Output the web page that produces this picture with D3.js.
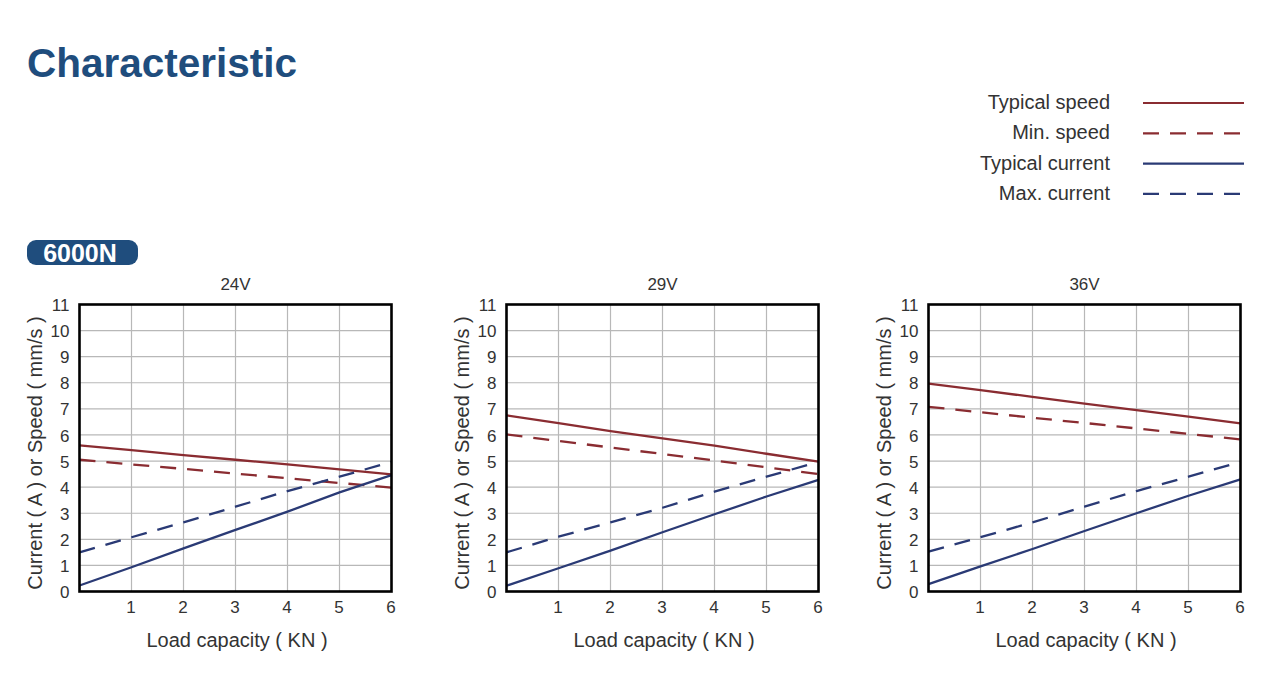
<!DOCTYPE html>
<html><head><meta charset="utf-8">
<script src="https://cdn.jsdelivr.net/npm/d3@7"></script>
<style>
body{margin:0;background:#fff;}
text{font-family:"Liberation Sans",Arial,Helvetica,sans-serif;}
</style></head>
<body>
<svg id="c" width="1268" height="681"></svg>
<script>
const loads = [0,1,2,3,4,5,6];
const xTicks = [1,2,3,4,5,6];
const yTicks = [0,1,2,3,4,5,6,7,8,9,10,11];
const voltages = ["24V","29V","36V"];
const seriesNames = ["Typical speed","Min. speed","Typical current","Max. current"];
// values per voltage, per series, at loads 0..6
const typSpeed24 = [5.6,5.42,5.23,5.05,4.87,4.68,4.49];
const minSpeed24 = [5.05,4.87,4.7,4.52,4.34,4.16,3.98];
const typCurrent24 = [0.23,0.93,1.65,2.36,3.06,3.8,4.46];
const maxCurrent24 = [1.5,2.08,2.65,3.25,3.85,4.4,4.97];
const typSpeed29 = [6.75,6.45,6.15,5.87,5.59,5.28,4.98];
const minSpeed29 = [6.02,5.77,5.52,5.27,5.02,4.76,4.5];
const typCurrent29 = [0.22,0.89,1.57,2.27,2.96,3.64,4.28];
const maxCurrent29 = [1.5,2.1,2.65,3.21,3.83,4.4,4.97];
const typSpeed36 = [7.97,7.72,7.46,7.2,6.95,6.7,6.44];
const minSpeed36 = [7.08,6.87,6.66,6.46,6.25,6.04,5.83];
const typCurrent36 = [0.28,0.96,1.63,2.32,3.0,3.67,4.3];
const maxCurrent36 = [1.53,2.08,2.65,3.25,3.85,4.4,4.97];

const data = [
  [typSpeed24,minSpeed24,typCurrent24,maxCurrent24],
  [typSpeed29,minSpeed29,typCurrent29,maxCurrent29],
  [typSpeed36,minSpeed36,typCurrent36,maxCurrent36]
];
const red = "#8a2c31", blue = "#2a3a75";
const styles = [
  {c:red,d:null},{c:red,d:"16,11"},{c:blue,d:null},{c:blue,d:"16,11"}
];
const FONT = "Liberation Sans, Arial, sans-serif";

const svg = d3.select("#c");
svg.append("text").attr("x",27).attr("y",77).attr("font-size",40.5).attr("font-weight","bold")
  .attr("fill","#1f4d7d").text("Characteristic");

// legend
seriesNames.forEach((n,i)=>{
  const yy = 102 + i*30.3;
  svg.append("text").attr("x",1110).attr("y",yy).attr("dy","0.35em").attr("text-anchor","end")
    .attr("font-size",20).attr("fill","#333").text(n);
  svg.append("line").attr("x1",1143).attr("x2",1244).attr("y1",yy+1).attr("y2",yy+1)
    .attr("stroke",styles[i].c).attr("stroke-width",2.2)
    .attr("stroke-dasharray",styles[i].d);
});

// badge
svg.append("rect").attr("x",27).attr("y",240).attr("width",111).attr("height",25).attr("rx",9)
  .attr("fill","#1f4d7d");
svg.append("text").attr("x",80).attr("y",253).attr("dy","0.36em").attr("text-anchor","middle")
  .attr("font-size",25).attr("font-weight","bold").attr("fill","#fff").text("6000N");

const lefts = [79.5,506.5,928.5];
const W = 312, plotTop = 304.5, plotBottom = 591.5;
voltages.forEach((v,k)=>{
  const x = d3.scaleLinear().domain([0,6]).range([lefts[k],lefts[k]+W]);
  const y = d3.scaleLinear().domain([0,11]).range([plotBottom,plotTop]);
  const g = svg.append("g");
  // grid
  g.selectAll(".gx").data(xTicks.slice(0,5)).join("line")
    .attr("x1",d=>x(d)).attr("x2",d=>x(d)).attr("y1",plotTop).attr("y2",plotBottom)
    .attr("stroke","#b8b8b8").attr("stroke-width",1.2);
  g.selectAll(".gy").data(yTicks.slice(1,11)).join("line")
    .attr("x1",x(0)).attr("x2",x(6)).attr("y1",d=>y(d)).attr("y2",d=>y(d))
    .attr("stroke","#b8b8b8").attr("stroke-width",1.2);
  // axes ticks text
  const ya = d3.axisLeft(y).tickValues(yTicks).tickFormat(d3.format("d")).tickSize(0).tickPadding(10);
  const ag = g.append("g").attr("transform",`translate(${x(0)},0)`).call(ya)
    .attr("font-size",17).attr("font-family",FONT);
  ag.select(".domain").remove();
  ag.selectAll("text").attr("fill","#333").attr("dy","0.36em");
  const xa = d3.axisBottom(x).tickValues(xTicks).tickFormat(d3.format("d")).tickSize(0).tickPadding(9);
  const xg = g.append("g").attr("transform",`translate(0,${plotBottom})`).call(xa)
    .attr("font-size",17).attr("font-family",FONT);
  xg.select(".domain").remove();
  xg.selectAll("text").attr("fill","#333").attr("dx","-1");
  // lines
  const line = d3.line().x((d,i)=>x(loads[i])).y(d=>y(d));
  data[k].forEach((s,i)=>{
    g.append("path").attr("d",line(s)).attr("fill","none")
      .attr("stroke",styles[i].c).attr("stroke-width",2.3)
      .attr("stroke-dasharray",styles[i].d);
  });
  // frame
  g.append("rect").attr("x",x(0)).attr("y",plotTop).attr("width",W).attr("height",plotBottom-plotTop)
    .attr("fill","none").attr("stroke","#000").attr("stroke-width",2.6);
  // titles
  g.append("text").attr("x",x(3)).attr("y",284).attr("dy","0.35em").attr("text-anchor","middle")
    .attr("font-size",17).attr("fill","#333").text(v);
  g.append("text").attr("x",x(3)+1.5).attr("y",640).attr("dy","0.35em").attr("text-anchor","middle")
    .attr("font-size",20).attr("fill","#333").text("Load capacity ( KN )");
  g.append("text").attr("transform",`translate(${x(0)-45},${(plotTop+plotBottom)/2+5}) rotate(-90)`)
    .attr("dy","0.35em").attr("text-anchor","middle")
    .attr("font-size",20).attr("fill","#333").text("Current ( A ) or Speed ( mm/s )");
});
</script>
</body></html>
